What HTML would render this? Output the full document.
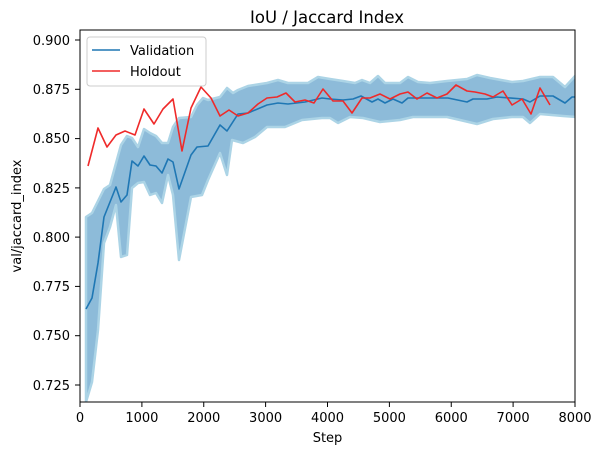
<!DOCTYPE html><html><head><style>body{margin:0;background:#fff}svg{font-family:"DejaVu Sans","Liberation Sans",sans-serif}</style></head><body>
<svg width="602" height="455" viewBox="0 0 602 455">
<defs><clipPath id="c"><rect x="80" y="30" width="495" height="372"/></clipPath></defs>
<text x="327" y="23" font-size="16.5" text-anchor="middle">IoU / Jaccard Index</text>
<g clip-path="url(#c)">
<polygon fill="#8dbbd9" stroke="#acd4e6" stroke-width="2.5" stroke-linejoin="round" points="86,217 92,213 104,189 110,185 121,145 127,136 132,138 138,147 144,129 150,133 156,136 162,143 168,143 173,127 179,118 191,117 197,105 203,98 208,100 220,97 227,88 233,93 238,90 248,86 267,83 278,80 288,83 308,83 318,77 330,79 343,81 355,83 362,80 370,83 378,76 385,83 400,83 408,77 418,82 430,83 447,81 467,79 477,75 490,78 512,82 523,81 540,77 553,77 565,87 576,75 576,117 563,116 540,114 530,123 523,117 512,117 493,119 477,124 460,120 447,117 430,117 413,117 400,120 380,122 363,118 350,117 338,123 330,118 322,118 302,120 285,127 267,127 255,137 243,143 232,140 227,175 220,153 208,180 202,195 191,197 179,260 173,195 168,175 162,203 156,193 150,195 144,182 138,183 132,188 127,255 121,257 116,205 110,227 104,243 98,330 92,382 86,402"/>
<polyline fill="none" stroke="#1f77b4" stroke-width="1.6" stroke-linejoin="round" points="86,309 92,298 98,263 104,217 116,187 121,202 127,195 132,161 138,166 144,156 150,165 156,166 162,173 168,159 173,162 179,189 191,155 197,147 208,146 220,125 227,131 238,114 248,113 267,105 278,103 288,104 305,102 322,98 330,99 343,100 353,99 361,96 372,102 378,99 385,103 393,99 402,103 408,98 430,98 448,98 467,102 473,99 487,99 497,97 523,99 530,102 540,96 553,96 565,103 572,97 576,97"/>
<polyline fill="none" stroke="#ef2a2a" stroke-width="1.6" stroke-linejoin="round" points="88,166 98,128 107,147 116,135 125,131 135,135 144,109 154,124 163,109 173,99 182,151 191,108 201,87 211,98 220,116 229,110 238,116 248,113 258,104 267,98 277,97 286,93 295,102 305,100 314,103 323,89 333,101 343,101 352,113 362,98 370,98 380,94 390,99 400,94 408,92 417,99 427,93 437,98 447,94 456,85 467,91 475,92 485,94 493,97 503,91 512,105 522,99 531,114 540,88 550,105"/>
</g>
<rect x="80" y="30" width="495" height="372" fill="none" stroke="#000" stroke-width="1"/>
<g stroke="#000">
<line x1="80" y1="402" x2="80" y2="407"/><line x1="141.9" y1="402" x2="141.9" y2="407"/><line x1="203.75" y1="402" x2="203.75" y2="407"/><line x1="265.6" y1="402" x2="265.6" y2="407"/><line x1="327.5" y1="402" x2="327.5" y2="407"/><line x1="389.4" y1="402" x2="389.4" y2="407"/><line x1="451.25" y1="402" x2="451.25" y2="407"/><line x1="513.1" y1="402" x2="513.1" y2="407"/><line x1="575" y1="402" x2="575" y2="407"/>
<line x1="75" y1="40" x2="80" y2="40"/><line x1="75" y1="89.3" x2="80" y2="89.3"/><line x1="75" y1="138.6" x2="80" y2="138.6"/><line x1="75" y1="187.9" x2="80" y2="187.9"/><line x1="75" y1="237.1" x2="80" y2="237.1"/><line x1="75" y1="286.4" x2="80" y2="286.4"/><line x1="75" y1="335.7" x2="80" y2="335.7"/><line x1="75" y1="385" x2="80" y2="385"/>
</g>
<g font-size="13" text-anchor="middle">
<text x="80" y="422">0</text><text x="141.9" y="422">1000</text><text x="203.75" y="422">2000</text><text x="265.6" y="422">3000</text><text x="327.5" y="422">4000</text><text x="389.4" y="422">5000</text><text x="451.25" y="422">6000</text><text x="513.1" y="422">7000</text><text x="575" y="422">8000</text>
<text x="327.5" y="442">Step</text>
</g>
<g font-size="13" text-anchor="end">
<text x="70" y="45">0.900</text><text x="70" y="94">0.875</text><text x="70" y="143">0.850</text><text x="70" y="193">0.825</text><text x="70" y="242">0.800</text><text x="70" y="291">0.775</text><text x="70" y="340">0.750</text><text x="70" y="390">0.725</text>
</g>
<text x="21" y="216" font-size="13" text-anchor="middle" transform="rotate(-90 21 216)">val/jaccard_index</text>
<rect x="87" y="37" width="119" height="49" rx="3" fill="#fff" fill-opacity="0.8" stroke="#ccc"/>
<line x1="92" y1="50" x2="120" y2="50" stroke="#1f77b4" stroke-width="1.6"/>
<line x1="92" y1="71" x2="120" y2="71" stroke="#ef2a2a" stroke-width="1.6"/>
<text x="130" y="55" font-size="13">Validation</text>
<text x="130" y="76" font-size="13">Holdout</text>
</svg></body></html>
